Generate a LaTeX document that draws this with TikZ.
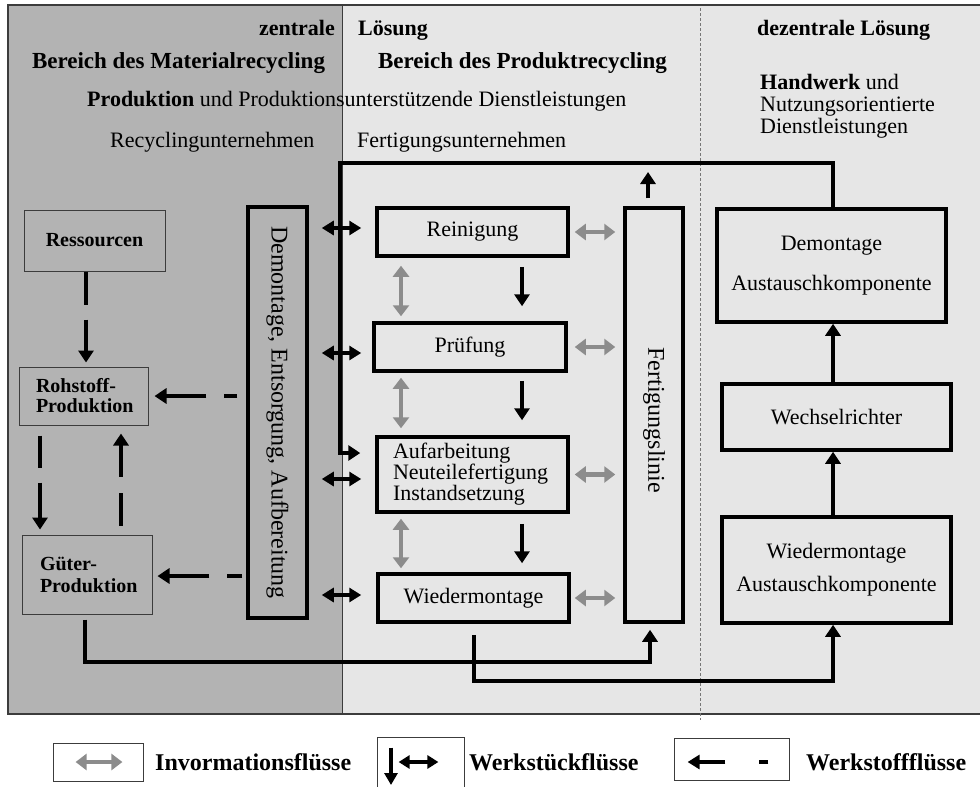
\documentclass[tikz,border=0pt]{standalone}
\usepackage{fontspec}
\setmainfont{Liberation Serif}
\usetikzlibrary{arrows.meta}
\definecolor{darkbg}{HTML}{B3B3B3}
\definecolor{lightbg}{HTML}{E6E6E6}
\definecolor{infogray}{HTML}{8C8C8C}
\definecolor{framec}{HTML}{3C3C3C}
\begin{document}
\begin{tikzpicture}[x=1pt,y=-1pt,
  every node/.style={inner sep=0pt},
  normtxt/.style={font=\fontsize{22}{22}\selectfont},
  boldtxt/.style={font=\bfseries\fontsize{22}{22}\selectfont},
  titletxt/.style={font=\bfseries\fontsize{23}{23}\selectfont},
  thinbox/.style={draw=framec,line width=1pt,fill=darkbg,font=\bfseries\fontsize{20}{22}\selectfont},
  thickbox/.style={draw=black,line width=3.5pt,fill=lightbg,font=\fontsize{22}{22}\selectfont},
  conn/.style={draw=black,line width=4pt},
  tip/.style={-{Triangle[length=12pt,width=15pt]}},
  dtip/.style={{Triangle[length=12pt,width=14pt]}-{Triangle[length=12pt,width=14pt]}},
  ginfo/.style={draw=infogray,line width=4.5pt,{Triangle[length=11pt,width=16pt]}-{Triangle[length=11pt,width=16pt]}},
  legbox/.style={draw=framec,line width=0.8pt,fill=white},
  legtxt/.style={font=\bfseries\fontsize{24}{24}\selectfont,anchor=base west},
  rottxt/.style={rotate=-90,font=\fontsize{24}{24}\selectfont},
]
\useasboundingbox (0,0) rectangle (980,787);
\clip (0,0) rectangle (980,787);
\fill[white] (0,0) rectangle (980,787);
% background regions
\fill[lightbg] (342,5) rectangle (980,714);
\fill[darkbg] (8,5) rectangle (342,714);
\draw[framec,line width=1.2pt] (980,5) -- (8,5) -- (8,714) -- (980,714);
\draw[framec,line width=0.8pt] (342,5) -- (342,714);
\draw[framec!70,line width=0.8pt,dash pattern=on 3pt off 2pt] (700,8) -- (700,720);

% header texts
\node[boldtxt,anchor=base east] (zen) at (335,35) {zentrale};
\node[boldtxt,anchor=base west] (loes) at (358,35) {Lösung};
\node[titletxt,anchor=base] (bmat) at (178.5,68) {Bereich des Materialrecycling};
\node[titletxt,anchor=base] (bprod) at (522.5,68) {Bereich des Produktrecycling};
\node[normtxt,anchor=base west] (prod) at (87,106) {\textbf{Produktion} und Produktionsunterstützende Dienstleistungen};
\node[normtxt,anchor=base west] (recy) at (110,147) {Recyclingunternehmen};
\node[normtxt,anchor=base west] (fertu) at (357,147) {Fertigungsunternehmen};
\node[boldtxt,anchor=base west] (dez) at (757,35) {dezentrale Lösung};
\node[font=\fontsize{22}{22}\selectfont,anchor=north west,align=left] (hw) at (760,74) {\textbf{Handwerk} und\\Nutzungsorientierte\\Dienstleistungen};

% left boxes
\node[thinbox,minimum width=141pt,minimum height=61pt] (res) at (94.5,240.5) {Ressourcen};
\node[thinbox,minimum width=129pt,minimum height=58pt,text width=95pt,inner xsep=17pt,align=left,font=\bfseries\fontsize{20}{20}\selectfont] (roh) at (83.5,396) {Rohstoff-\\Produktion};
\node[thinbox,minimum width=130pt,minimum height=79pt,text width=94pt,inner xsep=18pt,align=left] (gut) at (87,574.5) {Güter-\\Produktion};
\node[thickbox,fill=darkbg,minimum width=59pt,minimum height=411pt] (demo) at (277.5,412.5) {};
\node[rottxt] (demot) at (demo.center) {Demontage, Entsorgung, Aufbereitung};

% center boxes
\node[thickbox,minimum width=191pt,minimum height=48pt] (rein) at (472.5,232) {Reinigung};
\node[thickbox,minimum width=192pt,minimum height=48pt] (pruf) at (470,347) {Prüfung};
\node[thickbox,minimum width=191pt,minimum height=75pt,text width=159pt,inner xsep=16pt,align=left,font=\fontsize{22}{21}\selectfont] (aufb) at (472.5,474.5) {Aufarbeitung\\Neuteilefertigung\\Instandsetzung};
\node[thickbox,minimum width=191pt,minimum height=48pt] (wied) at (473.5,598) {Wiedermontage};
\node[thickbox,minimum width=58pt,minimum height=414pt] (fert) at (654,415) {};
\node[rottxt] (fertt) at ([yshift=-5pt]fert.center) {Fertigungslinie};

% right boxes
\node[thickbox,minimum width=229pt,minimum height=113pt,align=center,font=\fontsize{22}{40}\selectfont] (dA) at (831.5,265.5) {Demontage\\Austauschkomponente};
\node[thickbox,minimum width=229pt,minimum height=66pt] (wech) at (836.5,417) {Wechselrichter};
\node[thickbox,minimum width=229pt,minimum height=106pt,align=center,font=\fontsize{22}{33}\selectfont] (wA) at (836.5,570) {Wiedermontage\\Austauschkomponente};

% helper coordinates
\coordinate (rx) at (833,0);
\coordinate (tl) at (340,163);
\coordinate (gx) at (401,0);
\coordinate (bx) at (522,0);
\coordinate (fu) at (648,172);
\coordinate (g1) at (85,662);
\coordinate (fx) at (650,0);
\coordinate (w1) at (474,681);

% right column arrows
\draw[conn,tip] (wech.north -| rx) -- (dA.south -| rx);
\draw[conn,tip] (wA.north -| rx) -- (wech.south -| rx);

% loop from Demontage Austauschkomponente to Aufarbeitung
\draw[conn,tip,shorten >=15pt] (dA.north -| rx) |- (tl) |- (aufb.west |- 0,453);

% black double arrows left of center boxes
\draw[conn,dtip,shorten <=13pt,shorten >=14pt] (demo.east |- 0,228) -- (rein.west |- 0,228);
\draw[conn,dtip,shorten <=13pt,shorten >=11pt] (demo.east |- 0,353) -- (pruf.west |- 0,353);
\draw[conn,dtip,shorten <=13pt,shorten >=14pt] (demo.east |- 0,479) -- (aufb.west |- 0,479);
\draw[conn,dtip,shorten <=13pt,shorten >=15pt] (demo.east |- 0,595) -- (wied.west |- 0,595);

% grey info arrows horizontal
\draw[ginfo,shorten <=5pt,shorten >=8pt] (rein.east) -- (fert.west |- rein.east);
\draw[ginfo,shorten <=7pt,shorten >=8pt] (pruf.east) -- (fert.west |- pruf.east);
\draw[ginfo,shorten <=5pt,shorten >=8pt] (aufb.east) -- (fert.west |- aufb.east);
\draw[ginfo,shorten <=4pt,shorten >=8pt] (wied.east) -- (fert.west |- wied.east);

% grey info arrows vertical
\draw[ginfo,shorten <=8pt,shorten >=5pt] (rein.south -| gx) -- (pruf.north -| gx);
\draw[ginfo,shorten <=5pt,shorten >=7pt] (pruf.south -| gx) -- (aufb.north -| gx);
\draw[ginfo,shorten <=5pt,shorten >=4pt] (aufb.south -| gx) -- (wied.north -| gx);

% black work-piece arrows down
\draw[conn,tip,shorten <=9pt,shorten >=15pt] (rein.south -| bx) -- (pruf.north -| bx);
\draw[conn,tip,shorten <=8pt,shorten >=15pt] (pruf.south -| bx) -- (aufb.north -| bx);
\draw[conn,tip,shorten <=10pt,shorten >=9pt] (aufb.south -| bx) -- (wied.north -| bx);

% Fertigungslinie up arrow
\draw[conn,tip,shorten <=8pt] (fert.north -| fu) -- (fu);

% bottom loops
\draw[conn,tip,shorten <=5pt,shorten >=6pt] (gut.south -| g1) -- (g1) -| (fert.south -| fx);
\draw[conn,tip,shorten <=11pt] (wied.south -| w1) -- (w1) -| (wA.south -| rx);

% material flows (dashed)
\draw[conn,tip,dash pattern=on 33pt off 15pt,shorten >=4pt] (res.south -| 86,0) -- (roh.north -| 86,0);
\draw[conn,tip,dash pattern=on 13pt off 18pt on 300pt,shorten <=9pt,shorten >=6pt] (demo.west |- roh.east) -- (roh.east);
\draw[conn,tip,dash pattern=on 15pt off 18pt on 300pt,shorten <=4pt,shorten >=5pt] (demo.west |- 0,576) -- (gut.east |- 0,576);
\draw[conn,tip,dash pattern=on 32pt off 15pt on 300pt,shorten <=10pt,shorten >=5pt] (roh.south -| 40,0) -- (gut.north -| 40,0);
\draw[conn,tip,dash pattern=on 33pt off 16pt on 300pt,shorten <=9pt,shorten >=8pt] (gut.north -| 121,0) -- (roh.south -| 121,0);

% legend
\node[legbox,minimum width=90pt,minimum height=38pt] (lg1) at (98,762) {};
\draw[ginfo,line width=3.5pt,shorten <=23pt,shorten >=21pt] (lg1.west) -- (lg1.east);
\node[legtxt] (lt1) at (155,770) {Invormationsflüsse};
\node[legbox,minimum width=87pt,minimum height=66pt] (lg2) at (420.5,770) {};
\coordinate (l2d) at (391,785);
\draw[conn,line width=3.5pt,-{Triangle[length=12pt,width=13pt]},shorten <=11pt] (lg2.north -| l2d) -- (l2d);
\draw[conn,line width=3.5pt,{Triangle[length=11pt,width=13pt]}-{Triangle[length=11pt,width=13pt]},shorten <=22pt,shorten >=26pt] (lg2.west |- 0,762) -- (lg2.east |- 0,762);
\node[legtxt] (lt2) at (469,770) {Werkstückflüsse};
\node[legbox,minimum width=115pt,minimum height=42pt] (lg3) at (731.5,759) {};
\draw[conn,line width=3.5pt,-{Triangle[length=12pt,width=14pt]},dash pattern=on 9pt off 34pt on 300pt,shorten <=21pt,shorten >=14pt] (lg3.east |- 0,762) -- (lg3.west |- 0,762);
\node[legtxt] (lt3) at (806,770) {Werkstoffflüsse};
\end{tikzpicture}
\end{document}
